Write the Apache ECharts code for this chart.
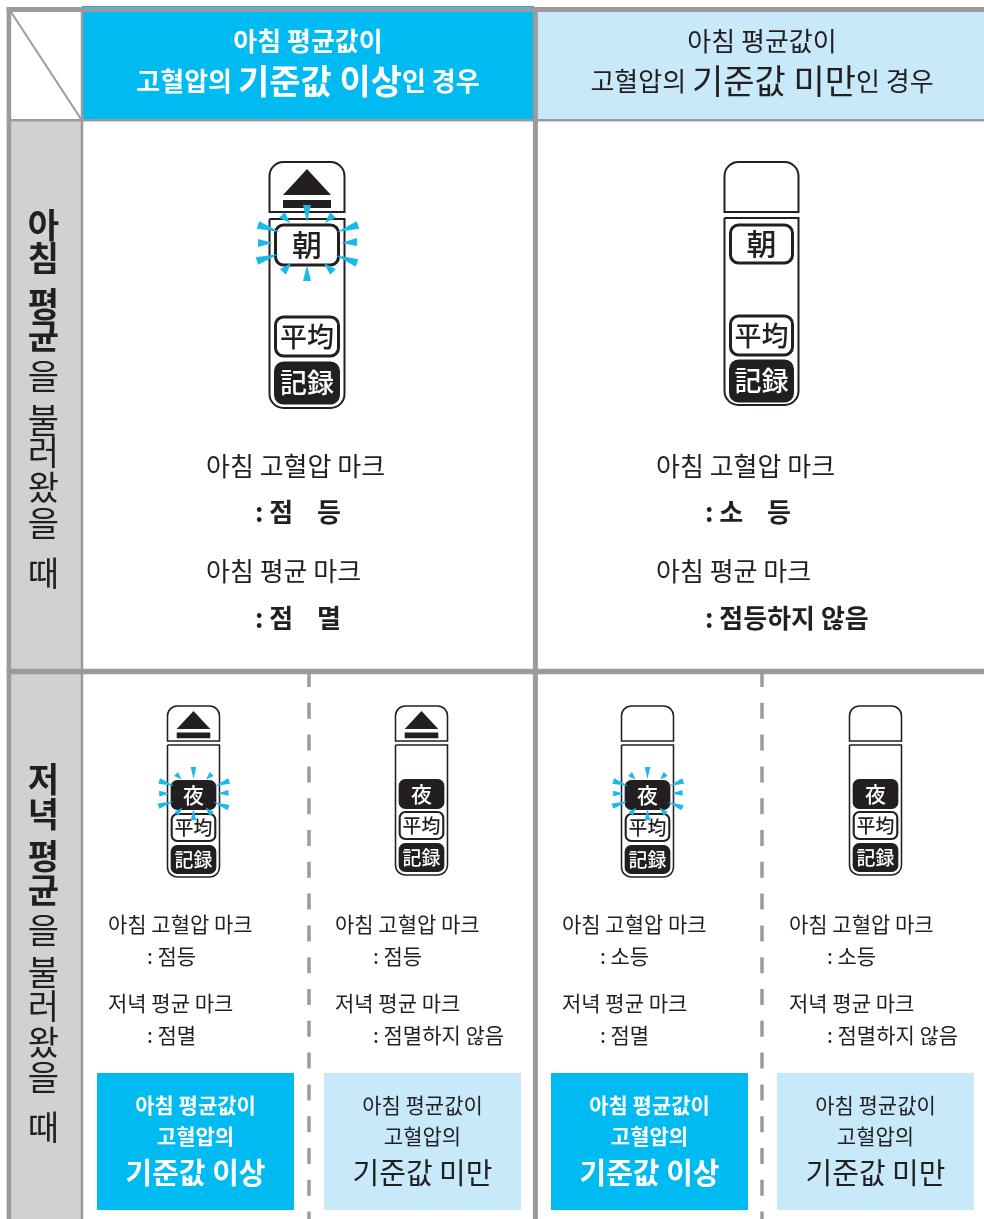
<!DOCTYPE html>
<html>
<head>
<meta charset="utf-8">
<style>
html, body { margin: 0; padding: 0; background: #fff; }
#main { width: 984px; height: 1219px; }
</style>
</head>
<body>
<div id="main"></div>
<script src="https://cdn.jsdelivr.net/npm/echarts@6/dist/echarts.min.js"></script>
<script>
// 표 머리글
const headTop = '아침 평균값이'
const headSub = ['고혈압의', '기준값 이상', '인 경우']
const headSubLow = ['고혈압의', '기준값 미만', '인 경우']

// 왼쪽 세로 글자
const sideMorning = ['아', '침', '평', '균', '을', '불', '러', '왔', '을', '때']
const sideEvening = ['저', '녁', '평', '균', '을', '불', '러', '왔', '을', '때']

// 큰 칸 문구
const bigHigh = ['아침 고혈압 마크', ': 점    등', '아침 평균 마크', ': 점    멸']
const bigLow = ['아침 고혈압 마크', ': 소    등', '아침 평균 마크', ': 점등하지 않음']

// 작은 칸 문구
const smallCells = [
    ['아침 고혈압 마크', ': 점등', '저녁 평균 마크', ': 점멸'],
    ['아침 고혈압 마크', ': 점등', '저녁 평균 마크', ': 점멸하지 않음'],
    ['아침 고혈압 마크', ': 소등', '저녁 평균 마크', ': 점멸'],
    ['아침 고혈압 마크', ': 소등', '저녁 평균 마크', ': 점멸하지 않음']
]
const boxLines = ['아침 평균값이', '고혈압의']
const boxHigh = '기준값 이상'
const boxLow = '기준값 미만'

// 기기 글자
const keyMorning = '朝'
const keyEvening = '夜'
const keyAverage = '平均'
const keyRecord = '記録'

const GRAY = '#9a9b9f'
const SIDE = '#d0d1d3'
const BLUE = '#00bbf2'
const PALE = '#c7e9fa'
const INK = '#231f20'
const RAY = '#1bb8ec'
const KR = '"Noto Sans CJK KR"'
const JP = '"Noto Sans CJK JP"'

const els = []

function rect(x, y, w, h, fill, extra) {
    els.push({
        type: 'rect', silent: true,
        shape: { x, y, width: w, height: h, r: (extra && extra.r) || 0 },
        style: { fill, stroke: extra && extra.stroke, lineWidth: extra && extra.lw }
    })
}

function line(x1, y1, x2, y2, lw, dash) {
    els.push({
        type: 'line', silent: true,
        shape: { x1, y1, x2, y2 },
        style: { stroke: GRAY, lineWidth: lw, lineDash: dash }
    })
}

function text(str, x, y, size, color, weight, align, font) {
    els.push({
        type: 'text', silent: true,
        style: {
            text: str, x, y,
            fill: color || INK,
            font: `${weight || 400} ${size}px ${font || KR}`,
            align: align || 'left',
            verticalAlign: 'middle'
        }
    })
}

// 큰 글자가 섞인 머리글 줄
function richHead(parts, x, y, color, weight) {
    els.push({
        type: 'text', silent: true,
        style: {
            text: `{a|${parts[0]} }{b|${parts[1]}}{a|${parts[2]}}`,
            x, y, align: 'center', verticalAlign: 'middle',
            rich: {
                a: { fontFamily: KR, fontSize: 26, fontWeight: weight, fill: color, color },
                b: { fontFamily: KR, fontSize: 34, fontWeight: weight, fill: color, color }
            }
        }
    })
}

// 버튼
function key(str, x, y, w, h, k, dark) {
    rect(x, y, w, h, dark ? INK : '#fff', { r: 8 * k, stroke: INK, lw: 3 * k })
    const size = (str.length > 1 ? 27 : 30) * k
    text(str, x + w / 2, y + h / 2, size, dark ? '#fff' : INK, 500, 'center', JP)
}

// 깜박임 표시
const rayList = [
    [0, -23, 0, -40], [-17, -22, -25, -30], [18, -22, 26, -30],
    [-27, -13, -49, -20], [-34, -2, -49, -2], [-28, 9, -50, 16],
    [-16, 18, -24, 27], [0, 20, 0, 36], [17, 18, 26, 27],
    [28, 10, 50, 18], [34, -2, 50, -3], [30, -13, 51, -20]
]
function rays(cx, cy, k) {
    rayList.forEach(r => {
        const tx = cx + r[0] * k, ty = cy + r[1] * k
        const bx = cx + r[2] * k, by = cy + r[3] * k
        const len = Math.hypot(bx - tx, by - ty)
        const nx = -(by - ty) / len * 4 * k, ny = (bx - tx) / len * 4 * k
        els.push({
            type: 'polygon', silent: true,
            shape: { points: [[tx, ty], [bx + nx, by + ny], [bx - nx, by - ny]] },
            style: { fill: RAY }
        })
    })
}

// 기기 그림 (k: 크기 비율)
function device(x, d) {
    const k = d.k, w = d.w, lw = 1.5 * k + 0.5
    els.push({
        type: 'rect', silent: true,
        shape: { x, y: d.capY, width: w, height: d.capH, r: [14 * k, 14 * k, 0, 0] },
        style: { fill: '#fff', stroke: INK, lineWidth: lw }
    })
    els.push({
        type: 'rect', silent: true,
        shape: { x, y: d.bodyY, width: w, height: d.bodyH, r: [0, 0, 14 * k, 14 * k] },
        style: { fill: '#fff', stroke: INK, lineWidth: lw }
    })
    const cx = x + w / 2
    if (d.eject) {
        els.push({
            type: 'polygon', silent: true,
            shape: { points: [[cx, d.capY + 7 * k], [cx - 24 * k, d.capY + 33 * k], [cx + 24 * k, d.capY + 33 * k]] },
            style: { fill: INK }
        })
        rect(cx - 24 * k, d.capY + 38 * k, 48 * k, 8 * k, INK)
    }
    const kx = x + 6 * k, kw = w - 12 * k
    key(d.first, kx, d.y1, kw, d.h1, k, d.firstDark)
    key(keyAverage, kx, d.y2, kw, d.h2, k, false)
    key(keyRecord, kx, d.y3, kw, d.h3, k, true)
    if (d.blink) rays(cx, d.y1 + d.h1 / 2, k)
}

// 세로 글자
function sideText(list, ys) {
    list.forEach((c, i) => {
        text(c, 43.5, ys[i], 34, INK, i < 4 ? 700 : 400, 'center')
    })
}

// 배경
rect(11, 121, 70, 1098, SIDE)
rect(82, 6, 452, 113, BLUE)
rect(538, 12, 446, 107, PALE)
rect(97, 1073, 197, 137, BLUE)
rect(324, 1073, 197, 137, PALE)
rect(551, 1073, 197, 137, BLUE)
rect(777, 1073, 197, 137, PALE)

// 격자
line(11, 12, 81, 119, 2)
line(8.9, 7, 8.9, 1219, 4.5)
line(6.7, 9.5, 984, 9.5, 5)
line(82, 8, 82, 1219, 2.5)
line(535.4, 8, 535.4, 1219, 5)
line(6.7, 120.3, 984, 120.3, 2.6)
line(6.7, 671.5, 984, 671.5, 5.5)
line(309, 671, 309, 1219, 3.5, [16, 15.8])
line(762, 671, 762, 1219, 3.5, [16, 15.8])

// 머리글
text(headTop, 308, 41, 26, '#fff', 700, 'center')
richHead(headSub, 308, 81, '#fff', 700)
text(headTop, 762, 41, 26, INK, 400, 'center')
richHead(headSubLow, 762, 81, INK, 400)

// 세로 글자
sideText(sideMorning, [225, 258, 304, 336, 376, 420, 452, 487, 523, 573])
sideText(sideEvening, [779, 814, 856, 890, 930, 972, 1006, 1042, 1077, 1127])

// 큰 칸 기기
const bigSpecA = { k: 1, w: 75, capY: 162, capH: 50, bodyY: 219, bodyH: 189, y1: 225, h1: 40, y2: 317, h2: 39, y3: 363, h3: 40, first: keyMorning, eject: true, blink: true }
const bigSpecB = { k: 1, w: 74, capY: 162, capH: 50, bodyY: 218, bodyH: 187, y1: 225, h1: 38, y2: 316, h2: 39, y3: 361, h3: 40, first: keyMorning }
device(269.5, bigSpecA)
device(724.5, bigSpecB)

// 큰 칸 문구
function bigText(list, x1, x2) {
    text(list[0], x1, 466, 26)
    text(list[1], x2, 512, 26, INK, 700)
    text(list[2], x1, 571.5, 26)
    text(list[3], x2, 618, 26, INK, 700)
}
bigText(bigHigh, 206, 255)
bigText(bigLow, 656, 705)

// 작은 칸
const smallX = [167.5, 395.5, 621.5, 849.5]
const textX = [108, 335, 562, 789]
const subX = [147, 373, 600, 827]
const boxX = [97, 324, 551, 777]

smallX.forEach((x, i) => {
    const blink = i === 0 || i === 2
    const eject = i < 2
    device(x, {
        k: 0.7, w: 52, capY: 706, capH: 35, bodyY: 745,
        bodyH: blink ? 132 : 130,
        y1: blink ? 781 : 780, h1: 28,
        y2: blink ? 814 : 812, h2: 27,
        y3: blink ? 846 : 844, h3: 27,
        first: keyEvening, firstDark: true, eject, blink
    })
    const c = smallCells[i]
    text(c[0], textX[i], 924, 21)
    text(c[1], subX[i], 956, 21)
    text(c[2], textX[i], 1003, 21)
    text(c[3], subX[i], 1035, 21)

    const cx = boxX[i] + 98.5
    const color = i % 2 ? INK : '#fff'
    const w = i % 2 ? 400 : 700
    text(boxLines[0], cx, 1105, 21, color, w, 'center')
    text(boxLines[1], cx, 1136, 21, color, w, 'center')
    text(i % 2 ? boxLow : boxHigh, cx, 1173, 29, color, w, 'center')
})

const myChart = echarts.init(document.querySelector('#main'), null, { renderer: 'canvas' })
myChart.setOption({
    backgroundColor: '#fff',
    animation: false,
    graphic: { elements: els }
})
</script>
</body>
</html>
